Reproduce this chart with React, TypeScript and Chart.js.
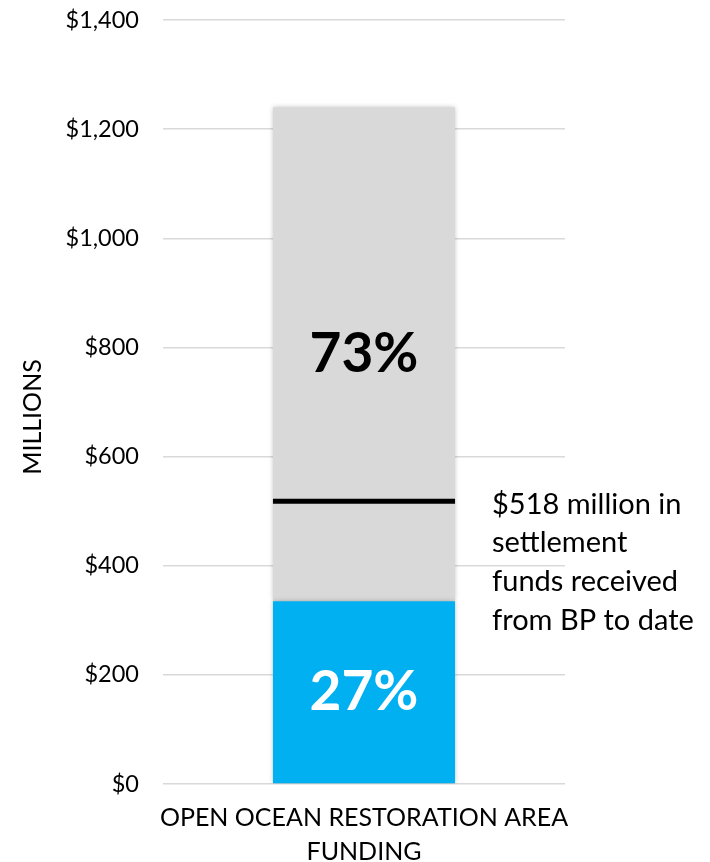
import { useEffect, useRef } from 'react';
import { Chart, registerables } from 'chart.js';

Chart.register(...registerables);

// ---- data ----
const categories = [['OPEN OCEAN RESTORATION AREA', 'FUNDING']];
const fundedValues = [335]; // millions (blue segment)
const remainingValues = [905]; // millions (gray segment)
const receivedToDate = [518]; // millions (black marker line)
const annotationLines = ['$518 million in', 'settlement', 'funds received', 'from BP to date'];
const yTickValues = [0, 200, 400, 600, 800, 1000, 1200, 1400];
const axisTitle = 'MILLIONS';

const FONT = 'Lato, "Open Sans", sans-serif';

export default function App() {
  const canvasRef = useRef<HTMLCanvasElement | null>(null);

  useEffect(() => {
    const canvas = canvasRef.current;
    if (!canvas) return;

    const overlayPlugin = {
      id: 'overlay',
      beforeDatasetsDraw(chart: any) {
        const ctx = chart.ctx;
        ctx.save();
        ctx.shadowColor = 'rgba(0,0,0,0.28)';
        ctx.shadowBlur = 5;
        ctx.shadowOffsetX = 0;
        ctx.shadowOffsetY = 0;
      },
      afterDatasetsDraw(chart: any) {
        const ctx = chart.ctx;
        ctx.restore();
        const yScale = chart.scales.y;
        const total = fundedValues[0] + remainingValues[0];
        const colors = ['#ffffff', '#000000'];
        const values = [fundedValues[0], remainingValues[0]];
        chart.data.datasets.forEach((_ds: any, i: number) => {
          const el = chart.getDatasetMeta(i).data[0];
          if (!el) return;
          const props = el.getProps(['x', 'y', 'base'], true);
          const cy = (props.y + props.base) / 2;
          ctx.save();
          ctx.font = `bold 55px ${FONT}`;
          ctx.fillStyle = colors[i];
          ctx.textAlign = 'center';
          ctx.textBaseline = 'middle';
          ctx.fillText(Math.round((values[i] / total) * 100) + '%', props.x, cy);
          ctx.restore();
        });
        // received-to-date marker line
        const el0 = chart.getDatasetMeta(1).data[0];
        const p = el0.getProps(['x', 'width'], true);
        const ly = yScale.getPixelForValue(receivedToDate[0]);
        ctx.save();
        ctx.strokeStyle = '#000000';
        ctx.lineWidth = 5;
        ctx.beginPath();
        ctx.moveTo(p.x - p.width / 2, ly);
        ctx.lineTo(p.x + p.width / 2, ly);
        ctx.stroke();
        // annotation text
        ctx.font = `29px ${FONT}`;
        ctx.fillStyle = '#000000';
        ctx.textAlign = 'left';
        ctx.textBaseline = 'middle';
        annotationLines.forEach((t, k) => {
          ctx.fillText(t, p.x + p.width / 2 + 37, ly + 3 + k * 38.7);
        });
        // axis title
        ctx.translate(33, (yScale.top + yScale.bottom) / 2 + 15);
        ctx.rotate(-Math.PI / 2);
        ctx.font = `25px ${FONT}`;
        ctx.textAlign = 'center';
        ctx.textBaseline = 'middle';
        ctx.fillText(axisTitle, 0, 0);
        ctx.restore();
      },
    };

    const chart = new Chart(canvas, {
      type: 'bar',
      data: {
        labels: categories as any,
        datasets: [
          {
            label: 'Funded',
            data: fundedValues,
            backgroundColor: '#00B0F0',
            borderWidth: 0,
            barPercentage: 0.453,
            categoryPercentage: 1,
          },
          {
            label: 'Remaining',
            data: remainingValues,
            backgroundColor: '#D9D9D9',
            borderWidth: 0,
            barPercentage: 0.453,
            categoryPercentage: 1,
          },
        ],
      },
      options: {
        animation: false,
        responsive: false,
        maintainAspectRatio: false,
        layout: { padding: { top: 20, right: 145, bottom: 0, left: 0 } },
        plugins: {
          legend: { display: false },
          tooltip: { enabled: false },
          title: { display: false },
        },
        scales: {
          x: {
            stacked: true,
            grid: { display: false, drawTicks: false },
            border: { display: false },
            ticks: {
              color: '#000000',
              font: { family: FONT, size: 25, lineHeight: 1.36 },
              padding: 17,
              maxRotation: 0,
            },
            afterFit(scale: any) {
              scale.height = 78;
              scale.paddingTop = 0;
              scale.paddingBottom = 0;
            },
          },
          y: {
            stacked: true,
            min: yTickValues[0],
            max: yTickValues[yTickValues.length - 1],
            afterBuildTicks(scale: any) {
              scale.ticks = yTickValues.map((v) => ({ value: v }));
            },
            grid: { color: '#D9D9D9', lineWidth: 1.5, drawTicks: false },
            border: { display: false },
            ticks: {
              color: '#000000',
              font: { family: FONT, size: 23.5 },
              padding: 24,
              callback: (v: any) => '$' + Number(v).toLocaleString('en-US'),
            },
            afterFit(scale: any) {
              scale.width = 163;
              scale.paddingTop = 0;
              scale.paddingBottom = 0;
            },
          },
        },
      },
      plugins: [overlayPlugin],
    });

    return () => chart.destroy();
  }, []);

  return (
    <div style={{ position: 'fixed', left: 0, top: 0, width: 710, height: 862, background: '#fff' }}>
      <canvas ref={canvasRef} width={710} height={862} style={{ width: 710, height: 862 }} />
    </div>
  );
}
